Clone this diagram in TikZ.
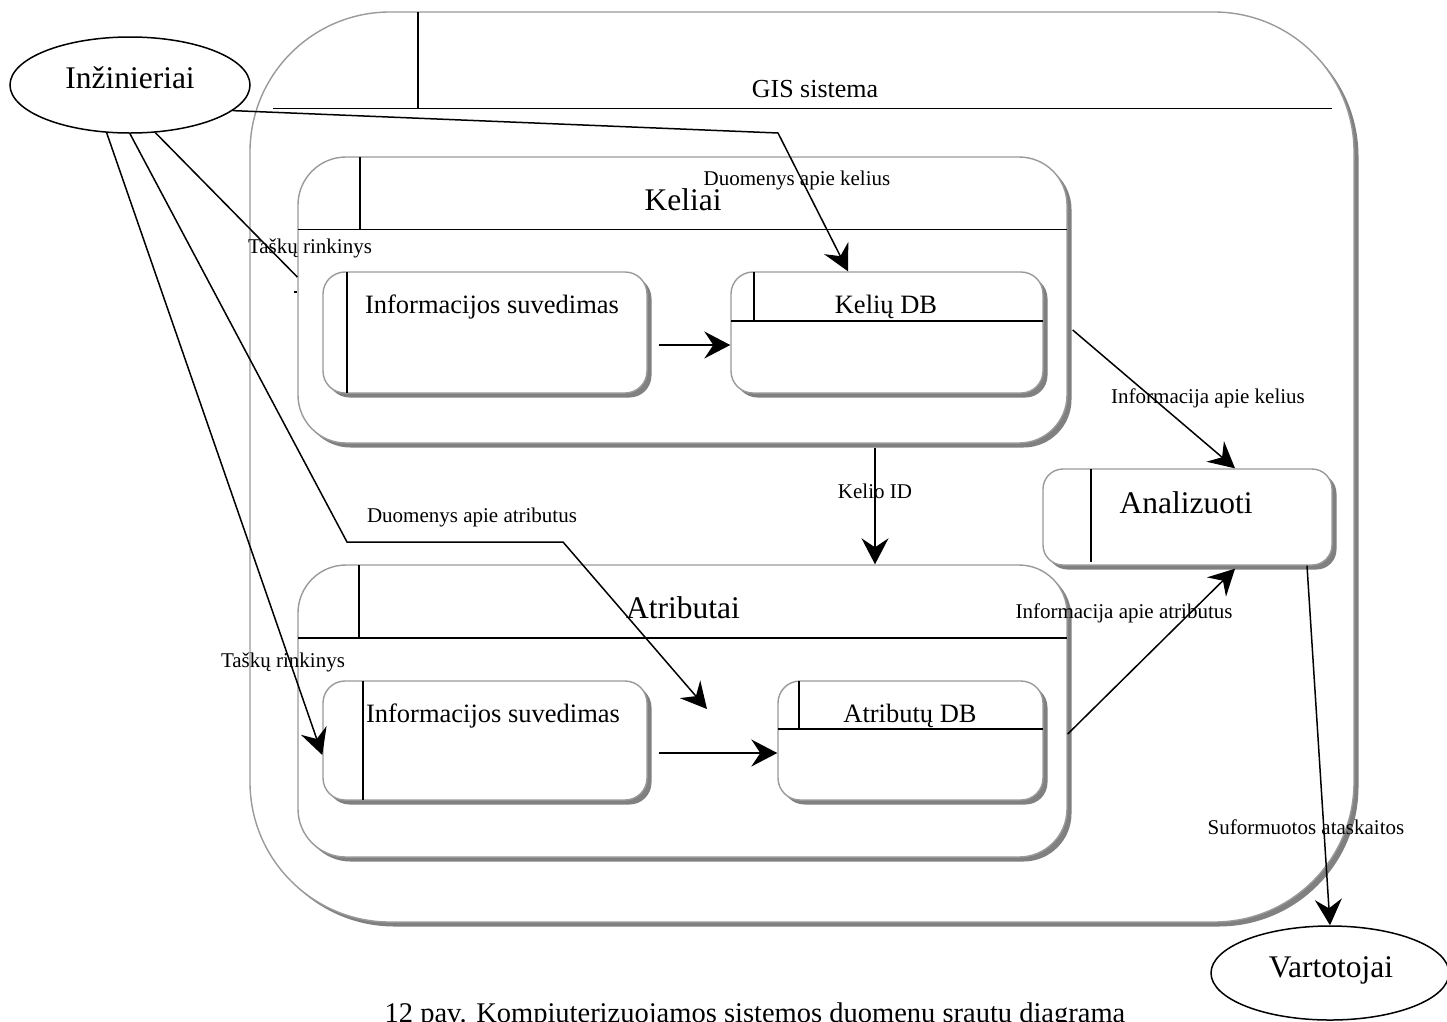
\documentclass[tikz,border=0pt]{standalone}
\usepackage{fontspec}
\setmainfont{Liberation Serif}
\usetikzlibrary{arrows.meta,shapes.geometric,shadows,calc}
\definecolor{rimgray}{HTML}{9A9A9A}
\definecolor{shadegray}{HTML}{808080}
\newcommand\szHuge{\fontsize{31.5}{36}\selectfont}
\newcommand\szMid{\fontsize{26.5}{31}\selectfont}
\newcommand\szSmall{\fontsize{21}{25}\selectfont}
\newcommand\szCap{\fontsize{28.5}{33}\selectfont}

\begin{document}
\begin{tikzpicture}[x=1pt,y=-1pt,
  panel/.style={draw=rimgray, line width=1.4pt, fill=white, inner sep=0pt, rounded corners=#1,
     drop shadow={shadow xshift=4.5pt, shadow yshift=-4.5pt, fill=shadegray, opacity=1}},
  actor/.style={draw=black, line width=1.5pt, ellipse, inner sep=0pt, fill=white},
  rule/.style={line width=1.5pt, black},
  plain/.style={line width=1.5pt, black},
  flow/.style={plain, -{Stealth[length=26pt,width=27pt,inset=9pt]}},
  lbl/.style={font=\szSmall, inner sep=0pt, anchor=base},
  big/.style={font=\szHuge, inner sep=0pt, anchor=base},
  mid/.style={font=\szMid, inner sep=0pt, anchor=base},
]
\useasboundingbox (0,0) rectangle (1447,1021);

% GIS system frame
\node[panel=140, minimum width=1104pt, minimum height=910pt] (gis) at (802,467) {};
\draw[rule] (273,108.5) -- (1332,108.5);
\draw[rule] (418,12) -- (418,108.5);
\node[mid, font=\fontsize{26}{30}\selectfont] (gis-t) at (815,97) {GIS sistema};

% Roads group
\node[panel=48, minimum width=769pt, minimum height=286pt] (kel) at (682.5,300) {};
\draw[rule] (298,229.5) -- (1067,229.5);
\draw[rule] (360,157) -- (360,229.5);
\node[big] (kel-t) at (683,210) {Keliai};

\node[panel=22, minimum width=324pt, minimum height=121pt] (inf1) at (485,332.5) {};
\draw[rule] (347,272) -- (347,393);
\node[mid] (inf1-t) at (492,313) {Informacijos suvedimas};

\node[panel=22, minimum width=312pt, minimum height=121pt] (kdb) at (887,332.5) {};
\draw[rule] (731,321) -- (1043,321);
\draw[rule] (754,272) -- (754,321);
\node[mid] (kdb-t) at (886,313) {Kelių DB};

% Analysis process
\node[panel=20, minimum width=289pt, minimum height=96pt] (ana) at (1187.5,517) {};
\draw[rule] (1091,469) -- (1091,562);
\node[big] (ana-t) at (1186,513) {Analizuoti};

% Attributes group
\node[panel=48, minimum width=769pt, minimum height=292pt] (atr) at (682.5,711) {};
\draw[rule] (298,638) -- (1067,638);
\draw[rule] (359,565) -- (359,638);
\node[big] (atr-t) at (683,618) {Atributai};

\node[panel=22, minimum width=324pt, minimum height=119pt] (inf2) at (485,740.5) {};
\draw[rule] (363,681) -- (363,800);
\node[mid] (inf2-t) at (493,722) {Informacijos suvedimas};

\node[panel=22, minimum width=265pt, minimum height=119pt] (adb) at (910.5,740.5) {};
\draw[rule] (778,729) -- (1043,729);
\draw[rule] (799,681) -- (799,729);
\node[mid] (adb-t) at (910,722) {Atributų DB};

% External entities
\node[actor, minimum width=240pt, minimum height=96pt] (inz) at (130,85) {};
\node[big] (inz-t) at (130,88) {Inžinieriai};
\node[actor, minimum width=238pt, minimum height=94pt] (var) at (1330,973) {};
\node[big] (var-t) at (1331,977) {Vartotojai};

% Bend points of the data flows
\coordinate (bk) at (778,133);
\coordinate (ba1) at (347,542);
\coordinate (ba2) at (563,542);
\coordinate (ta) at (707,709);

% Data flows
\draw[flow] (inz.-14) -- (bk) -- ([xshift=-39pt]kdb.north);
\draw[plain] (inz.-62) -- ([yshift=23pt]kel.west);
\draw[plain] (294,292) -- ([yshift=8pt]kel.west);
\draw[flow] (inz.-90) -- (ba1) -- (ba2) -- (ta);
\draw[flow] (inz.-116) -- ([yshift=-14.5pt]inf2.west);
\draw[flow] ([xshift=11pt,yshift=-12.5pt]inf1.east) -- ([yshift=-12.5pt]kdb.west);
\draw[flow] ([xshift=11pt,yshift=-12.5pt]inf2.east) -- ([yshift=-12.5pt]adb.west);
\draw[flow] ([xshift=192.5pt,yshift=-4pt]kel.south) -- ([xshift=192.5pt]atr.north);
\draw[flow] ([xshift=5pt,yshift=-30pt]kel.east) -- ([xshift=47.5pt]ana.north);
\draw[flow] ([yshift=-23pt]atr.east) -- ([xshift=47.5pt,yshift=-3pt]ana.south);
\draw[flow] ([xshift=119.5pt]ana.south) -- (var.north);

% Flow labels
\node[lbl] (l-dk) at (797,185) {Duomenys apie kelius};
\node[lbl] (l-tr1) at (310,253) {Taškų rinkinys};
\node[lbl] (l-tr2) at (283,667) {Taškų rinkinys};
\node[lbl] (l-da) at (472,522) {Duomenys apie atributus};
\node[lbl] (l-id) at (875,498) {Kelio ID};
\node[lbl] (l-ik) at (1208,403) {Informacija apie kelius};
\node[lbl] (l-ia) at (1124,618) {Informacija apie atributus};
\node[lbl] (l-sa) at (1306,834) {Suformuotos ataskaitos};

% Caption, running off the lower edge of the sheet
\node[font=\szCap, inner sep=0pt, anchor=base] (cap) at (755,1022)
  {12 pav. Kompiuterizuojamos sistemos duomenų srautų diagrama};
\end{tikzpicture}
\end{document}
